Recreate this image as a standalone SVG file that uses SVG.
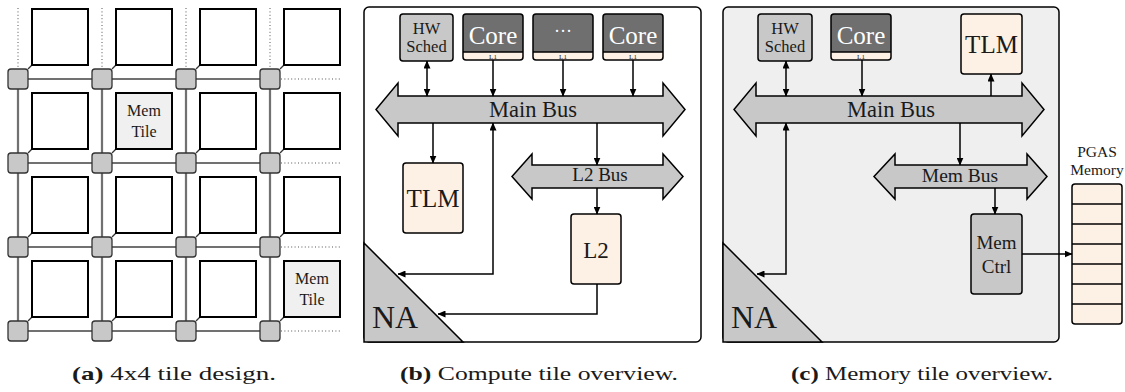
<svg xmlns="http://www.w3.org/2000/svg" width="1125" height="392" viewBox="0 0 1125 392" font-family="Liberation Serif, Times New Roman, DejaVu Serif, serif">
<style>
text{font-family:'Liberation Serif','Times New Roman','DejaVu Serif',serif;fill:#1a1a1a}
.tile{fill:#fff;stroke:#000;stroke-width:2}
.mtile{fill:#f0f0f0;stroke:#000;stroke-width:2}
.rt{fill:#c8c8c8;stroke:#333;stroke-width:1.3}
.lk{stroke:#5a5a5a;stroke-width:2.2;fill:none}
.lki{stroke:#aaa;stroke-width:0.6;fill:none}
.dot{stroke:#555;stroke-width:1;stroke-dasharray:1 2.4;fill:none}
.dg{stroke:#333;stroke-width:1.3}
.box{stroke:#000;stroke-width:1.5}
.gray{fill:#c8c8c8}
.peach{fill:#fdf0e4}
.dark{fill:#6f6f6f}
.bus{fill:#c8c8c8;stroke:#000;stroke-width:1.5;stroke-linejoin:miter}
.cn{stroke:#000;stroke-width:1.5;fill:none}
.ar{marker-end:url(#ah)}
.ab{marker-start:url(#ah);marker-end:url(#ah)}
.wt{fill:#fff}
</style>
<defs>
<marker id="ah" viewBox="0 0 8 7" refX="7.5" refY="3.5" markerWidth="8" markerHeight="7" markerUnits="userSpaceOnUse" orient="auto-start-reverse">
<path d="M0,0 L8,3.5 L0,7 z" fill="#000"/>
</marker>
</defs>

<!-- Panel (a) -->
<g id="a-links">
<path class="lk" d="M18,79H270M18,163H270M18,247H270M18,331H270M18,79V331M102,79V331M186,79V331M270,79V331"/>
<path class="lki" d="M18,79H270M18,163H270M18,247H270M18,331H270M18,79V331M102,79V331M186,79V331M270,79V331"/>
<path class="dot" d="M18,8V69M102,8V69M186,8V69M270,8V69M281,79H341M281,163H341M281,247H341M281,331H341"/>
<path class="dg" d="M28,69L32,65M112,69L116,65M196,69L200,65M280,69L284,65M28,153L32,149M112,153L116,149M196,153L200,149M280,153L284,149M28,237L32,233M112,237L116,233M196,237L200,233M280,237L284,233M28,321L32,317M112,321L116,317M196,321L200,317M280,321L284,317"/>
</g>
<g id="a-tiles">
<rect class="tile" x="32" y="9" width="56" height="56"/>
<rect class="tile" x="116" y="9" width="56" height="56"/>
<rect class="tile" x="200" y="9" width="56" height="56"/>
<rect class="tile" x="284" y="9" width="56" height="56"/>
<rect class="tile" x="32" y="93" width="56" height="56"/>
<g id="memtile1"><rect class="mtile" x="116" y="93" width="56" height="56"/>
<text x="144" y="116" font-size="16" text-anchor="middle">Mem</text><text x="144" y="137" font-size="16" text-anchor="middle">Tile</text></g>
<rect class="tile" x="200" y="93" width="56" height="56"/>
<rect class="tile" x="284" y="93" width="56" height="56"/>
<rect class="tile" x="32" y="177" width="56" height="56"/>
<rect class="tile" x="116" y="177" width="56" height="56"/>
<rect class="tile" x="200" y="177" width="56" height="56"/>
<rect class="tile" x="284" y="177" width="56" height="56"/>
<rect class="tile" x="32" y="261" width="56" height="56"/>
<rect class="tile" x="116" y="261" width="56" height="56"/>
<rect class="tile" x="200" y="261" width="56" height="56"/>
<g id="memtile2"><rect class="mtile" x="284" y="261" width="56" height="56"/>
<text x="312" y="284" font-size="16" text-anchor="middle">Mem</text><text x="312" y="305" font-size="16" text-anchor="middle">Tile</text></g>
</g>
<g id="a-routers">
<rect class="rt" x="8" y="69" width="20" height="20" rx="3"/><rect class="rt" x="92" y="69" width="20" height="20" rx="3"/><rect class="rt" x="176" y="69" width="20" height="20" rx="3"/><rect class="rt" x="260" y="69" width="20" height="20" rx="3"/>
<rect class="rt" x="8" y="153" width="20" height="20" rx="3"/><rect class="rt" x="92" y="153" width="20" height="20" rx="3"/><rect class="rt" x="176" y="153" width="20" height="20" rx="3"/><rect class="rt" x="260" y="153" width="20" height="20" rx="3"/>
<rect class="rt" x="8" y="237" width="20" height="20" rx="3"/><rect class="rt" x="92" y="237" width="20" height="20" rx="3"/><rect class="rt" x="176" y="237" width="20" height="20" rx="3"/><rect class="rt" x="260" y="237" width="20" height="20" rx="3"/>
<rect class="rt" x="8" y="321" width="20" height="20" rx="3"/><rect class="rt" x="92" y="321" width="20" height="20" rx="3"/><rect class="rt" x="176" y="321" width="20" height="20" rx="3"/><rect class="rt" x="260" y="321" width="20" height="20" rx="3"/>
</g>
<text x="72" y="380" font-size="19" textLength="204" lengthAdjust="spacingAndGlyphs"><tspan font-weight="bold">(a)</tspan> 4x4 tile design.</text>

<!-- Panel (b) -->
<g id="b-tile"><rect x="364" y="7" width="337" height="335" rx="5" fill="#fff" stroke="#000" stroke-width="1.5"/></g>
<g id="b-na"><path d="M364,243L463,342H364Z" class="gray" stroke="#000" stroke-width="1.5"/><text x="372" y="328" font-size="32">NA</text></g>
<g id="b-hw"><rect class="box gray" x="400" y="14" width="53" height="47" rx="3"/><text x="426.5" y="34" font-size="16.5" text-anchor="middle">HW</text><text x="426.5" y="52" font-size="16.5" text-anchor="middle">Sched</text></g>
<g id="b-core1"><path class="dark" d="M463,52V17Q463,14 466,14H520Q523,14 523,17V52Z"/><path class="peach" d="M463,52H523V57Q523,60 520,60H466Q463,60 463,57Z"/><rect x="463" y="14" width="60" height="46" rx="3" fill="none" class="box"/><line x1="463" y1="52" x2="523" y2="52" class="box"/><text class="wt" x="493" y="44" font-size="25" text-anchor="middle">Core</text><text x="493" y="58.5" font-size="7" text-anchor="middle">L1</text></g>
<g id="b-core2"><path class="dark" d="M533,52V17Q533,14 536,14H590Q593,14 593,17V52Z"/><path class="peach" d="M533,52H593V57Q593,60 590,60H536Q533,60 533,57Z"/><rect x="533" y="14" width="60" height="46" rx="3" fill="none" class="box"/><line x1="533" y1="52" x2="593" y2="52" class="box"/><text class="wt" x="563" y="37" font-size="18" text-anchor="middle">···</text><text x="563" y="58.5" font-size="7" text-anchor="middle">L1</text></g>
<g id="b-core3"><path class="dark" d="M603,52V17Q603,14 606,14H660Q663,14 663,17V52Z"/><path class="peach" d="M603,52H663V57Q663,60 660,60H606Q603,60 603,57Z"/><rect x="603" y="14" width="60" height="46" rx="3" fill="none" class="box"/><line x1="603" y1="52" x2="663" y2="52" class="box"/><text class="wt" x="633" y="44" font-size="25" text-anchor="middle">Core</text><text x="633" y="58.5" font-size="7" text-anchor="middle">L1</text></g>
<g id="b-mainbus"><polygon class="bus" points="376,109.5 398,83 398,96 663,96 663,83 685,109.5 663,136 663,123 398,123 398,136"/><text x="533" y="116.5" font-size="22.5" text-anchor="middle">Main Bus</text></g>
<g id="b-l2bus"><polygon class="bus" points="512,176.5 532,154 532,165 663,165 663,154 683,176.5 663,199 663,188 532,188 532,199"/><text x="600" y="181" font-size="19" text-anchor="middle">L2 Bus</text></g>
<g id="b-tlm"><rect class="box peach" x="403" y="163" width="60" height="70" rx="3"/><text x="433" y="207" font-size="25" text-anchor="middle">TLM</text></g>
<g id="b-l2"><rect class="box peach" x="571" y="214" width="50" height="70" rx="3"/><text x="596" y="257.5" font-size="23" text-anchor="middle">L2</text></g>
<g id="b-connectors">
<line class="cn ab" x1="427" y1="61" x2="427" y2="96"/>
<line class="cn ar" x1="493" y1="60" x2="493" y2="96"/>
<line class="cn ar" x1="563" y1="60" x2="563" y2="96"/>
<line class="cn ar" x1="633" y1="60" x2="633" y2="96"/>
<line class="cn ar" x1="433" y1="123" x2="433" y2="163"/>
<path class="cn ab" d="M398,274H493V123"/>
<line class="cn ar" x1="597" y1="123" x2="597" y2="165"/>
<line class="cn ar" x1="597" y1="188" x2="597" y2="214"/>
<path class="cn ar" d="M597,284V314H438"/>
</g>
<text x="400" y="380" font-size="19" textLength="278" lengthAdjust="spacingAndGlyphs"><tspan font-weight="bold">(b)</tspan> Compute tile overview.</text>

<!-- Panel (c) -->
<g id="c-tile"><rect x="723" y="7" width="336" height="335" rx="5" fill="#efefef" stroke="#000" stroke-width="1.5"/></g>
<g id="c-na"><path d="M723,243L822,342H723Z" class="gray" stroke="#000" stroke-width="1.5"/><text x="731" y="328" font-size="32">NA</text></g>
<g id="c-hw"><rect class="box gray" x="758" y="14" width="54" height="47" rx="3"/><text x="785" y="34" font-size="16.5" text-anchor="middle">HW</text><text x="785" y="52" font-size="16.5" text-anchor="middle">Sched</text></g>
<g id="c-core"><path class="dark" d="M831,52V17Q831,14 834,14H888Q891,14 891,17V52Z"/><path class="peach" d="M831,52H891V57Q891,60 888,60H834Q831,60 831,57Z"/><rect x="831" y="14" width="60" height="46" rx="3" fill="none" class="box"/><line x1="831" y1="52" x2="891" y2="52" class="box"/><text class="wt" x="861" y="44" font-size="25" text-anchor="middle">Core</text><text x="861" y="58.5" font-size="7" text-anchor="middle">L1</text></g>
<g id="c-tlm"><rect class="box peach" x="961" y="14" width="61" height="60" rx="3"/><text x="991.5" y="53" font-size="25" text-anchor="middle">TLM</text></g>
<g id="c-mainbus"><polygon class="bus" points="734,109.5 756,83 756,96 1022,96 1022,83 1044,109.5 1022,136 1022,123 756,123 756,136"/><text x="891" y="116.5" font-size="22.5" text-anchor="middle">Main Bus</text></g>
<g id="c-membus"><polygon class="bus" points="874,176.5 895,154 895,165 1027,165 1027,154 1047,176.5 1027,199 1027,188 895,188 895,199"/><text x="960" y="181.5" font-size="19.5" text-anchor="middle">Mem Bus</text></g>
<g id="c-memctrl"><rect class="box gray" x="971" y="214" width="51" height="80" rx="3"/><text x="996.5" y="249" font-size="19" text-anchor="middle">Mem</text><text x="996.5" y="273" font-size="19" text-anchor="middle">Ctrl</text></g>
<g id="c-pgas">
<text x="1097" y="157" font-size="15.5" text-anchor="middle">PGAS</text><text x="1097" y="175" font-size="15.5" text-anchor="middle">Memory</text>
<rect class="box peach" x="1072" y="184" width="50" height="140" rx="3"/>
<path class="box" fill="none" d="M1072,204H1122M1072,224H1122M1072,244H1122M1072,264H1122M1072,284H1122M1072,304H1122"/>
</g>
<g id="c-connectors">
<line class="cn ab" x1="786" y1="61" x2="786" y2="96"/>
<line class="cn ar" x1="862" y1="60" x2="862" y2="96"/>
<line class="cn ar" x1="991" y1="96" x2="991" y2="74"/>
<path class="cn ab" d="M757,274H786V123"/>
<line class="cn ar" x1="960" y1="123" x2="960" y2="165"/>
<line class="cn ar" x1="995" y1="188" x2="995" y2="214"/>
<line class="cn ar" x1="1022" y1="254" x2="1072" y2="254"/>
</g>
<text x="791" y="380" font-size="19" textLength="262" lengthAdjust="spacingAndGlyphs"><tspan font-weight="bold">(c)</tspan> Memory tile overview.</text>
</svg>
